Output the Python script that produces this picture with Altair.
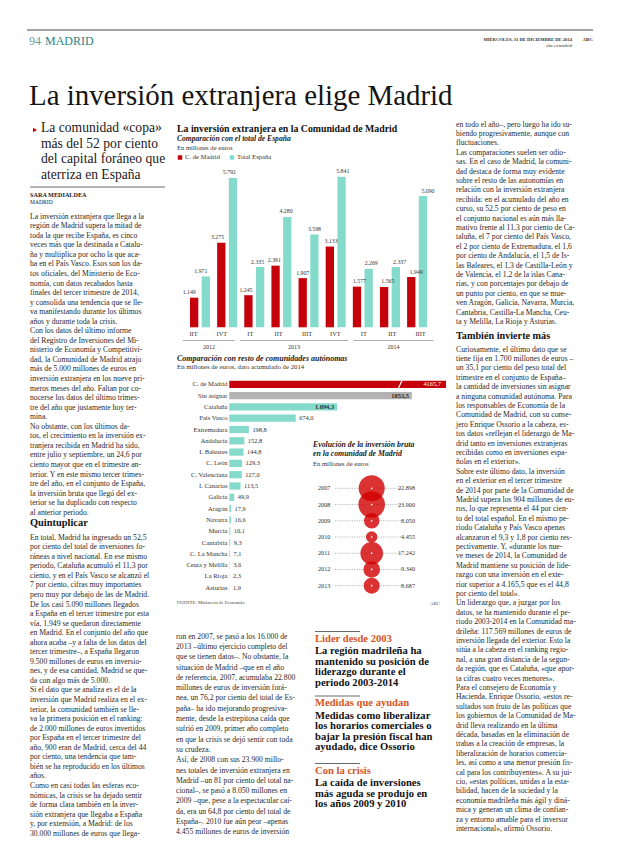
import altair as alt
import pandas as pd

# ---------------- data ----------------
quarters = ["IIT", "IVT", "IT", "IIT", "IIIT", "IVT", "IT", "IIT", "IIIT"]
quarter_years = ["2012", "2012", "2013", "2013", "2013", "2013", "2014", "2014", "2014"]
madrid_values = [1149, 3275, 1245, 2391, 1907, 3133, 1577, 1565, 1949]
spain_values = [1971, 5792, 2335, 4280, 3598, 5841, 2269, 2337, 5090]

regions = ["C. de Madrid", "Sin asignar", "Cataluña", "País Vasco", "Extremadura",
           "Andalucía", "I. Baleares", "C. León", "C. Valenciana", "I. Canarias",
           "Galicia", "Aragón", "Navarra", "Murcia", "Cantabria", "C. La Mancha",
           "Ceuta y Melilla", "La Rioja", "Asturias"]
region_values = [4165.7, 1853.5, 1094.3, 674.0, 198.8, 152.8, 144.8, 129.3, 127.0,
                 113.5, 49.9, 17.9, 16.6, 10.1, 9.3, 7.1, 3.6, 2.3, 1.9]
region_labels = ["4165,7", "1853,5", "1.094,3", "674,0", "198,8", "152,8", "144,8",
                 "129,3", "127,0", "113,5", "49,9", "17,9", "16,6", "10,1", "9,3",
                 "7,1", "3,6", "2,3", "1,9"]

bubble_years = [2007, 2008, 2009, 2010, 2011, 2012, 2013]
bubble_values = [22898, 23900, 8050, 4455, 17242, 9340, 8687]

headline = "La inversión extranjera elige Madrid"
subhead = ["La comunidad «copa»", "más del 52 por ciento", "del capital foráneo que", "aterriza en España"]

NB = "\u2002\u2002"
left_a = [
    "La inversión extranjera que llega a la", "región de Madrid supera la mitad de",
    "toda la que recibe España, es cinco", "veces más que la destinada a Catalu-",
    "ña y multiplica por ocho la que aca-", "ba en el País Vasco. Esos son los da-",
    "tos oficiales, del Ministerio de Eco-", "nomía, con datos recabados hasta",
    "finales del tercer trimestre de 2014,", "y consolida una tendencia que se lle-",
    "va manifestando durante los últimos", "años y durante toda la crisis.",
    NB + "Con los datos del último informe", "del Registro de Inversiones del Mi-",
    "nisterio de Economía y Competitivi-", "dad, la Comunidad de Madrid atrajo",
    "más de 5.000 millones de euros en", "inversión extranjera en los nueve pri-",
    "meros meses del año. Faltan por co-", "nocerse los datos del último trimes-",
    "tre del año que justamente hoy ter-", "mina.",
    NB + "No obstante, con los últimos da-", "tos, el crecimiento en la inversión ex-",
    "tranjera recibida en Madrid ha sido,", "entre julio y septiembre, un 24,6 por",
    "ciento mayor que en el trimestre an-", "terior. Y en este mismo tercer trimes-",
    "tre del año, en el conjunto de España,", "la inversión bruta que llegó del ex-",
    "terior se ha duplicado con respecto", "al anterior periodo."]
left_b = [
    "En total, Madrid ha ingresado un 52,5", "por ciento del total de inversiones fo-",
    "ráneas a nivel nacional. En ese mismo", "periodo, Cataluña acumuló el 11,3 por",
    "ciento, y en el País Vasco se alcanzó el", "7 por ciento, cifras muy importantes",
    "pero muy por debajo de las de Madrid.", NB + "De los casi 5.090 millones llegados",
    "a España en el tercer trimestre por esta", "vía, 1.949 se quedaron directamente",
    "en Madrid. En el conjunto del año que", "ahora acaba –y a falta de los datos del",
    "tercer trimestre–, a España llegaron", "9.500 millones de euros en inversio-",
    "nes, y de esa cantidad, Madrid se que-", "da con algo más de 5.000.",
    NB + "Si el dato que se analiza es el de la", "inversión que Madrid realiza en el ex-",
    "terior, la comunidad también se lle-", "va la primera posición en el ranking:",
    "de 2.000 millones de euros invertidos", "por España en el tercer trimestre del",
    "año, 900 eran de Madrid, cerca del 44", "por ciento, una tendencia que tam-",
    "bién se ha reproducido en los últimos", "años.",
    NB + "Como en casi todas las esferas eco-", "nómicas, la crisis se ha dejado sentir",
    "de forma clara también en la inver-", "sión extranjera que llegaba a España",
    "y, por extensión, a Madrid: de los", "30.000 millones de euros que llega-"]
middle_col = [
    "ron en 2007, se pasó a los 16.000 de", "2013 –último ejercicio completo del",
    "que se tienen datos–. No obstante, la", "situación de Madrid –que en el año",
    "de referencia, 2007, acumulaba 22.800", "millones de euros de inversión forá-",
    "nea, un 76,2 por ciento del total de Es-", "paña– ha ido mejorando progresiva-",
    "mente, desde la estrepitosa caída que", "sufrió en 2009, primer año completo",
    "en que la crisis se dejó sentir con toda", "su crudeza.",
    NB + "Así, de 2008 con sus 23.900 millo-", "nes totales de inversión extranjera en",
    "Madrid –un 81 por ciento del total na-", "cional–, se pasó a 8.050 millones en",
    "2009 –que, pese a la espectacular caí-", "da, era un 64,8 por ciento del total de",
    "España–. 2010 fue aún peor –apenas", "4.455 millones de euros de inversión"]
right_a = [
    "en todo el año–, pero luego ha ido su-", "biendo progresivamente, aunque con",
    "fluctuaciones.", NB + "Las comparaciones suelen ser odio-",
    "sas. En el caso de Madrid, la comuni-", "dad destaca de forma muy evidente",
    "sobre el resto de las autonomías en", "relación con la inversión extranjera",
    "recibida: en el acumulado del año en", "curso, su 52,5 por ciento de peso en",
    "el conjunto nacional es aún más lla-", "mativo frente al 11,3 por ciento de Ca-",
    "taluña, el 7 por ciento del País Vasco,", "el 2 por ciento de Extremadura, el 1,6",
    "por ciento de Andalucía, el 1,5 de Is-", "las Baleares, el 1,3 de Castilla-León y",
    "de Valencia, el 1,2 de la islas Cana-", "rias, y con porcentajes por debajo de",
    "un punto por ciento, en que se mue-", "ven Aragón, Galicia, Navarra, Murcia,",
    "Cantabria, Castilla-La Mancha, Ceu-", "ta y Melilla, La Rioja y Asturias."]
right_b = [
    "Curiosamente, el último dato que se", "tiene fija en 1.700 millones de euros –",
    "un 35,1 por ciento del peso total del", "trimestre en el conjunto de España–",
    "la cantidad de inversiones sin asignar", "a ninguna comunidad autónoma. Para",
    "los responsables de Economía de la", "Comunidad de Madrid, con su conse-",
    "jero Enrique Ossorio a la cabeza, es-", "tos datos «reflejan el liderazgo de Ma-",
    "drid tanto en inversiones extranjeras", "recibidas como en inversiones espa-",
    "ñolas en el exterior».", NB + "Sobre este último dato, la inversión",
    "en el exterior en el tercer trimestre", "de 2014 por parte de la Comunidad de",
    "Madrid supera los 904 millones de eu-", "ros, lo que representa el 44 por cien-",
    "to del total español. En el mismo pe-", "riodo Cataluña y País Vasco apenas",
    "alcanzaron el 9,3 y 1,8 por ciento res-", "pectivamente. Y, «durante los nue-",
    "ve meses de 2014, la Comunidad de", "Madrid mantiene su posición de lide-",
    "razgo con una inversión en el exte-", "rior superior a 4.165,5 que es el 44,8",
    "por ciento del total».", NB + "Un liderazgo que, a juzgar por los",
    "datos, se ha mantenido durante el pe-", "riodo 2003-2014 en la Comunidad ma-",
    "drileña: 117.569 millones de euros de", "inversión llegada del exterior. Esto la",
    "sitúa a la cabeza en el ranking regio-", "nal, a una gran distancia de la segun-",
    "da región, que es Cataluña, «que apor-", "ta cifras cuatro veces menores».",
    NB + "Para el consejero de Economía y", "Hacienda, Enrique Ossorio, «estos re-",
    "sultados son fruto de las políticas que", "los gobiernos de la Comunidad de Ma-",
    "drid lleva realizando en la última", "década, basadas en la eliminación de",
    "trabas a la creación de empresas, la", "liberalización de horarios comercia-",
    "les, así como a una menor presión fis-", "cal para los contribuyentes». A su jui-",
    "cio, «estas políticas, unidas a la esta-", "bilidad, hacen de la sociedad y la",
    "economía madrileña más ágil y diná-", "mica y generan un clima de confian-",
    "za y entorno amable para el inversor", "internacional», afirmó Ossorio."]

highlights = [
    ("Lider desde 2003", ["La región madrileña ha", "mantenido su posición de", "liderazgo durante el", "periodo 2003-2014"]),
    ("Medidas que ayudan", ["Medidas como liberalizar", "los horarios comerciales o", "bajar la presión fiscal han", "ayudado, dice Ossorio"]),
    ("Con la crisis", ["La caída de inversiones", "más aguda se produjo en", "los años 2009 y 2010"]),
]

# ---------------- style ----------------
RED = "#c5000b"
TEAL = "#85dbcb"
GRAY = "#b3b3b3"
BODY = "#2a2a2a"
ORANGE = "#d4551e"
SERIF = "Liberation Serif"


def P(v):
    return v - 8  # page coordinate -> chart coordinate


def fmt(v):
    return f"{v:,}".replace(",", ".")


def text_block(lines, x, y_center, size, lh=9.5, weight="normal", style="normal",
               color=BODY, font=SERIF, align="left"):
    df = pd.DataFrame({"t": ["\n".join(lines)]})
    return alt.Chart(df).mark_text(
        align=align, baseline="top", lineBreak="\n", lineHeight=lh, fontSize=size,
        font=font, fontWeight=weight, fontStyle=style, color=color
    ).encode(text="t:N", x=alt.value(P(x)), y=alt.value(P(y_center) - 0.56 * size))


def hrule(x1, x2, y, color="#555", w=0.8):
    df = pd.DataFrame({"a": [0]})
    return alt.Chart(df).mark_rule(color=color, strokeWidth=w).encode(
        x=alt.value(P(x1)), x2=alt.value(P(x2)), y=alt.value(P(y)))


layers = []

# ---------------- page header ----------------
layers.append(hrule(27, 593, 30, "#444", 1))
layers.append(text_block(["94"], 29, 43, 12, color="#6f9a9a"))
layers.append(text_block(["MADRID"], 45, 43, 12, color="#2d8585"))
layers.append(text_block(["MIÉRCOLES, 31 DE DICIEMBRE DE 2014"], 572, 40, 4.6, weight="bold", color="#333", align="right"))
layers.append(text_block(["ABC"], 593, 40, 5, weight="bold", color="#333", align="right"))
layers.append(text_block(["abc.es/madrid"], 572, 46, 4.6, color="#333", align="right"))
layers.append(text_block([headline], 29, 98.5, 28.9, color="#151515"))

# ---------------- left column ----------------
tri = alt.Chart(pd.DataFrame({"a": [0]})).mark_point(
    shape="triangle-right", filled=True, size=22, color=RED, opacity=1
).encode(x=alt.value(P(35)), y=alt.value(P(130)))
layers.append(tri)
layers.append(text_block(subhead, 41, 129, 13.6, lh=15.4, color="#1a1a1a"))
layers.append(hrule(30, 165, 187, "#444", 0.8))
layers.append(text_block(["SARA MEDIALDEA"], 30, 195, 6.2, weight="bold", color="#222"))
layers.append(text_block(["MADRID"], 30, 203, 5.6, color="#222"))
layers.append(text_block(left_a, 30, 217, 7.7, lh=9.55))
layers.append(text_block(["Quintuplicar"], 30, 524, 10.4, weight="bold", color="#111"))
layers.append(text_block(left_b, 30, 538, 7.7, lh=9.55))

# ---------------- chart 1: grouped bars ----------------
q = pd.DataFrame({"idx": list(range(len(quarters))), "quarter": quarters, "year": quarter_years,
                  "madrid": madrid_values, "spain": spain_values})
q["madrid_lbl"] = [fmt(v) for v in madrid_values]
q["spain_lbl"] = [fmt(v) for v in spain_values]

X1 = alt.Scale(domain=[0, 8], range=[P(195), P(422.1)], nice=False, zero=False)
Y1 = alt.Scale(domain=[0, 6000], range=[P(327.3), P(172.6)], nice=False)
OFF = 5.85
BW = 8.3

layers.append(text_block(["La inversión extranjera en la Comunidad de Madrid"], 177, 129, 9.8, weight="bold", color="#111"))
layers.append(text_block(["Comparación con el total de España"], 177, 139.5, 7.6, weight="bold", style="italic", color="#222"))
layers.append(text_block(["En millones de euros"], 177, 148.5, 6.6, color="#333"))
leg = pd.DataFrame({"a": [0]})
layers.append(alt.Chart(leg).mark_square(size=20, color=RED, opacity=1).encode(x=alt.value(P(180)), y=alt.value(P(157.5))))
layers.append(text_block(["C. de Madrid"], 185, 157.5, 6.6, color="#333"))
layers.append(alt.Chart(leg).mark_square(size=20, color=TEAL, opacity=1).encode(x=alt.value(P(232)), y=alt.value(P(157.5))))
layers.append(text_block(["Total España"], 237, 157.5, 6.6, color="#333"))

base1 = alt.Chart(q)
layers.append(base1.mark_bar(orient="vertical", width=BW, xOffset=-OFF, color=RED).encode(
    x=alt.X("idx:Q", scale=X1, axis=None), y=alt.Y("madrid:Q", scale=Y1, axis=None)))
layers.append(base1.mark_bar(orient="vertical", width=BW, xOffset=OFF, color=TEAL).encode(
    x=alt.X("idx:Q", scale=X1, axis=None), y=alt.Y("spain:Q", scale=Y1, axis=None)))
layers.append(base1.mark_text(xOffset=-OFF, dy=-2.5, baseline="bottom", fontSize=5.8, font=SERIF, color="#333").encode(
    x=alt.X("idx:Q", scale=X1, axis=None), y=alt.Y("madrid:Q", scale=Y1, axis=None), text="madrid_lbl:N"))
layers.append(base1.mark_text(xOffset=OFF, dy=-2.5, baseline="bottom", fontSize=5.8, font=SERIF, color="#333").encode(
    x=alt.X("idx:Q", scale=X1, axis=None), y=alt.Y("spain:Q", scale=Y1, axis=None), text="spain_lbl:N"))
layers.append(base1.mark_text(baseline="middle", fontSize=6.4, font=SERIF, color="#333", dx=-1.5).encode(
    x=alt.X("idx:Q", scale=X1, axis=None), y=alt.value(P(334)), text="quarter:N"))

yr = q.groupby("year")["idx"].agg(["min", "max"]).reset_index()
yr["start"] = yr["min"] - 0.42
yr["end"] = yr["max"] + 0.4
yr["mid"] = (yr["start"] + yr["end"]) / 2
layers.append(alt.Chart(yr).mark_rule(color="#999", strokeWidth=0.8).encode(
    x=alt.X("start:Q", scale=X1, axis=None), x2="end:Q", y=alt.value(P(340.5))))
layers.append(alt.Chart(yr).mark_text(baseline="middle", fontSize=6, font=SERIF, color="#333").encode(
    x=alt.X("mid:Q", scale=X1, axis=None), y=alt.value(P(347)), text="year:N"))

# ---------------- chart 2: horizontal bars ----------------
r = pd.DataFrame({"region": regions, "value": region_values, "label": region_labels})
r["idx"] = range(len(r))
r["kind"] = ["madrid", "sin"] + ["ccaa"] * (len(r) - 2)
X2 = alt.Scale(domain=[0, 2200], range=[P(229.3), P(446)], nice=False, clamp=True)
Y2 = alt.Scale(domain=regions, range=[P(378.65), P(593.35)], paddingInner=0.36, paddingOuter=0.18)

layers.append(text_block(["Comparación con resto de comunidades autónomas"], 177, 359, 8, weight="bold", style="italic", color="#222"))
layers.append(text_block(["En millones de euros, dato acumulado de 2014"], 177, 368, 6.8, color="#333"))

base2 = alt.Chart(r)
layers.append(base2.mark_bar(orient="horizontal").encode(
    y=alt.Y("region:N", scale=Y2, axis=None), x=alt.X("value:Q", scale=X2, axis=None),
    color=alt.Color("kind:N", scale=alt.Scale(domain=["madrid", "sin", "ccaa"], range=[RED, GRAY, TEAL]), legend=None)))
layers.append(base2.mark_text(align="right", baseline="middle", fontSize=6.6, font=SERIF, color="#333").encode(
    y=alt.Y("region:N", scale=Y2, axis=None), x=alt.value(P(227.5)), text="region:N"))
layers.append(base2.transform_filter("datum.idx >= 3").mark_text(align="left", baseline="middle", dx=3.5, fontSize=6.4, font=SERIF, color="#333").encode(
    y=alt.Y("region:N", scale=Y2, axis=None), x=alt.X("value:Q", scale=X2, axis=None), text="label:N"))
layers.append(base2.transform_filter("datum.idx == 0").mark_text(align="right", baseline="middle", dx=-5, fontSize=6.4, font=SERIF, color="white").encode(
    y=alt.Y("region:N", scale=Y2, axis=None), x=alt.X("value:Q", scale=X2, axis=None), text="label:N"))
layers.append(base2.transform_filter("datum.idx == 1 || datum.idx == 2").mark_text(align="right", baseline="middle", dx=-3, fontSize=6.4, font=SERIF, fontWeight="bold", color="#2a2a2a").encode(
    y=alt.Y("region:N", scale=Y2, axis=None), x=alt.X("value:Q", scale=X2, axis=None), text="label:N"))
# break mark on the truncated bar
brk = pd.DataFrame({"a": [0]})
layers.append(alt.Chart(brk).mark_rule(color="white", strokeWidth=1.2).encode(
    x=alt.value(P(398)), x2=alt.value(P(402)), y=alt.value(P(389)), y2=alt.value(P(380.5))))

layers.append(text_block(["FUENTE: Ministerio de Economía"], 177, 602.5, 4.8, color="#444"))
layers.append(text_block(["ABC"], 430, 604, 4.8, color="#444"))

# ---------------- chart 3: bubbles ----------------
b = pd.DataFrame({"year": bubble_years, "value": bubble_values})
b["label"] = [fmt(v) for v in bubble_values]
b["ylab"] = [str(y) for y in bubble_years]
Y3 = alt.Scale(domain=[2007, 2013], range=[P(488.3), P(585.7)], nice=False, zero=False)

layers.append(text_block(["Evolución de la inversión bruta", "en la comunidad de Madrid"], 313, 445.5, 7.8, lh=8.6, weight="bold", style="italic", color="#222"))
layers.append(text_block(["En millones de euros"], 313, 465, 6.6, color="#333"))

base3 = alt.Chart(b)
layers.append(base3.mark_rule(color="#8a8a8a", strokeWidth=0.6, strokeDash=[1.2, 1.2]).encode(
    x=alt.value(P(335)), x2=alt.value(P(402)), y=alt.Y("year:Q", scale=Y3, axis=None)))
layers.append(base3.mark_circle(color="#d20000", opacity=0.8).encode(
    x=alt.value(P(371.7)), y=alt.Y("year:Q", scale=Y3, axis=None),
    size=alt.Size("value:Q", scale=alt.Scale(domain=[0, 23900], range=[0, 707]), legend=None)))
layers.append(base3.mark_circle(color="white", opacity=1, size=3).encode(
    x=alt.value(P(371.7)), y=alt.Y("year:Q", scale=Y3, axis=None)))
layers.append(base3.mark_text(align="left", baseline="middle", fontSize=6.2, font=SERIF, color="#333").encode(
    x=alt.value(P(318)), y=alt.Y("year:Q", scale=Y3, axis=None), text="ylab:N"))
layers.append(base3.mark_text(align="right", baseline="middle", fontSize=6.2, font=SERIF, color="#333").encode(
    x=alt.value(P(415)), y=alt.Y("year:Q", scale=Y3, axis=None), text="label:N"))

# ---------------- middle text + highlights ----------------
layers.append(text_block(middle_col, 176, 637, 7.7, lh=10.3))

hl_rules = [631.5, 696, 763.5]
for (title, lines), y0 in zip(highlights, hl_rules):
    layers.append(hrule(315, 360, y0, "#444", 0.8))
    layers.append(text_block([title], 315, y0 + 8, 10.6, weight="bold", color=ORANGE))
    layers.append(text_block(lines, 315, y0 + 20.5, 10.6, lh=10.6, weight="bold", color="#111"))

# ---------------- right column ----------------
layers.append(text_block(right_a, 456, 125, 7.7, lh=9.4))
layers.append(text_block(["También invierte más"], 456, 337, 10.2, weight="bold", color="#111"))
layers.append(text_block(right_b, 456, 350, 7.7, lh=9.4))

chart = alt.layer(*layers).resolve_scale(
    x="independent", y="independent", color="independent", size="independent"
).properties(
    width=604, height=830, autosize=alt.AutoSizeParams(type="none"), padding=0, background="white"
).configure_view(stroke=None)

chart.save("out.html", embed_options={"renderer": "svg", "actions": False})
